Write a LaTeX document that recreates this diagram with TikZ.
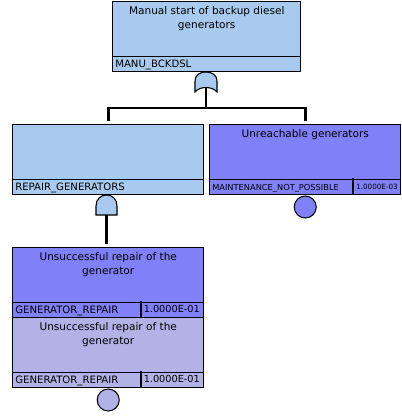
\documentclass[tikz,border=0pt]{standalone}
\usepackage{fontspec}
\setmainfont{DejaVu Sans}
\usetikzlibrary{calc,positioning}
\definecolor{gateblue}{RGB}{168,202,238}
\definecolor{eventviolet}{RGB}{128,128,248}
\definecolor{copylilac}{RGB}{178,178,230}

\begin{document}
\begin{tikzpicture}[x=0.75pt,y=-0.75pt,
    evbox/.style={draw, line width=1.1pt, inner sep=0pt, anchor=north west,
        minimum width=191*0.75pt, minimum height=70*0.75pt},
    title/.style={font=\fontsize{7.9}{10.5}\selectfont, align=center, anchor=north, inner sep=0pt},
    tag/.style={font=\fontsize{7.6}{8}\selectfont, anchor=base west, inner sep=0pt},
    wire/.style={line width=2.2pt},
    gatefill/.style={draw, line width=0.8pt}]
    \useasboundingbox (0,0) rectangle (401,418);

    % Top gate event
    \node[evbox, fill=gateblue, minimum width=188*0.75pt] (manu) at (112,0.8) {};
    \draw[line width=0.8pt] ($(manu.south west)+(0,-16)$) -- ($(manu.south east)+(0,-16)$);
    \node[title] (manutxt) at ($(manu.north)+(0,5)$) {Manual start of backup diesel\\generators};
    \node[tag] (manutag) at ($(manu.south west)+(3,-5)$) {MANU\_BCKDSL};

    % OR gate
    \filldraw[gatefill, fill=gateblue] (195,92) -- (195,81) .. controls (195,75) and (200,72) .. (206,72)
        .. controls (212,72) and (217,75) .. (217,81) -- (217,92) .. controls (212,86) and (200,86) .. (195,92) -- cycle;
    \coordinate (orout) at (206,87.5);
    \coordinate (split) at (206,108);

    % Second level
    \node[evbox, fill=gateblue] (repgen) at (12,124) {};
    \draw[line width=0.8pt] ($(repgen.south west)+(0,-16)$) -- ($(repgen.south east)+(0,-16)$);
    \node[tag] (repgentag) at ($(repgen.south west)+(3,-5)$) {REPAIR\_GENERATORS};

    \node[evbox, fill=eventviolet] (unreach) at (209,124) {};
    \draw[line width=0.8pt] ($(unreach.south west)+(0,-16)$) -- ($(unreach.south east)+(0,-16)$);
    \draw[line width=0.8pt] (353,178) -- (353,194);
    \node[title] (unreachtxt) at ($(unreach.north)+(0,5)$) {Unreachable generators};
    \node[tag, font=\fontsize{6.2}{8}\selectfont] (unreachtag) at ($(unreach.south west)+(3,-5)$) {MAINTENANCE\_NOT\_POSSIBLE};
    \node[tag, font=\fontsize{5.4}{8}\selectfont] (unreachval) at (356,189) {1.0000E-03};
    \node[circle, draw, line width=0.8pt, fill=eventviolet, minimum size=22*0.75pt, inner sep=0pt,
        below=0pt of unreach] (unreachbe) {};

    % AND gate
    \filldraw[gatefill, fill=gateblue] (96,215) -- (96,206) .. controls (96,199) and (101,195) .. (106.5,195)
        .. controls (112,195) and (117,199) .. (117,206) -- (117,215) -- cycle;
    \coordinate (andout) at (106.5,215);

    % Basic event and its copy
    \node[evbox, fill=eventviolet] (genrepa) at (12,247) {};
    \draw[line width=0.8pt] ($(genrepa.south west)+(0,-16)$) -- ($(genrepa.south east)+(0,-16)$);
    \draw[line width=0.8pt] (141,301) -- (141,317);
    \node[title] (genrepatxt) at ($(genrepa.north)+(0,5)$) {Unsuccessful repair of the\\generator};
    \node[tag] (genrepatag) at ($(genrepa.south west)+(3,-5)$) {GENERATOR\_REPAIR};
    \node[tag, font=\fontsize{7.3}{8}\selectfont] (genrepaval) at (143.5,312) {1.0000E-01};

    \node[evbox, fill=copylilac] (genrepb) at (12,317) {};
    \draw[line width=0.8pt] ($(genrepb.south west)+(0,-16)$) -- ($(genrepb.south east)+(0,-16)$);
    \draw[line width=0.8pt] (141,371) -- (141,387);
    \node[title] (genrepbtxt) at ($(genrepb.north)+(0,5)$) {Unsuccessful repair of the\\generator};
    \node[tag] (genrepbtag) at ($(genrepb.south west)+(3,-5)$) {GENERATOR\_REPAIR};
    \node[tag, font=\fontsize{7.3}{8}\selectfont] (genrepbval) at (143.5,382) {1.0000E-01};
    \node[circle, draw, line width=0.8pt, fill=copylilac, minimum size=22*0.75pt, inner sep=0pt,
        below=0pt of genrepb] (genrepbe) {};

    % Connectors
    \draw[wire] (orout) -- (split);
    \draw[wire, shorten <=2.2pt, shorten >=2.2pt] (repgen.north) |- (split) -| (unreach.north);
    \draw[wire, shorten >=2.5pt] (andout) -- (andout |- genrepa.north);
\end{tikzpicture}
\end{document}
